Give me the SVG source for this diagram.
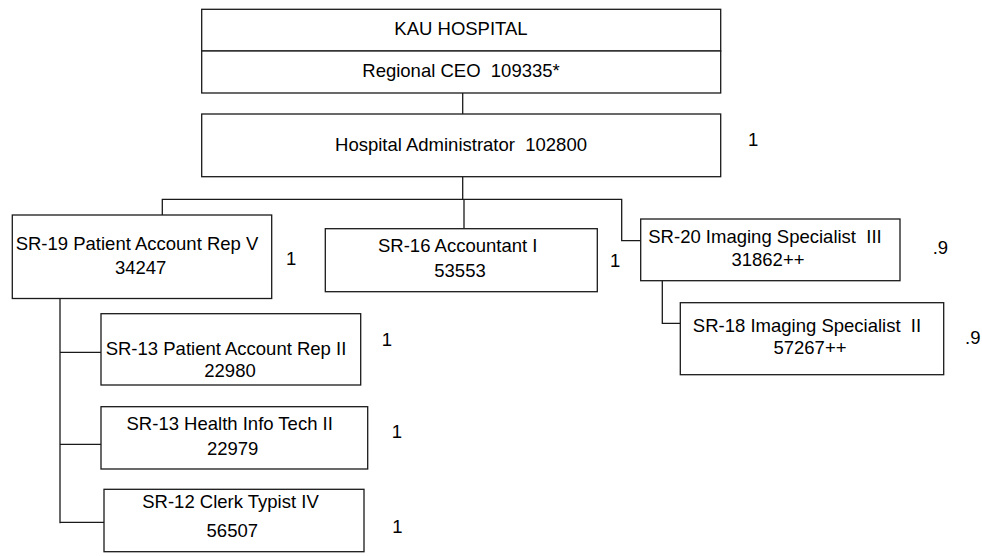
<svg xmlns="http://www.w3.org/2000/svg" width="982" height="556" viewBox="0 0 982 556">
<style>
.box{fill:#fff;stroke:#1a1a1a;stroke-width:1.3}
.ln{fill:none;stroke:#1a1a1a;stroke-width:1.3}
text{font-family:"Liberation Sans",Arial,sans-serif;font-size:18.5px;fill:#000}
.c{text-anchor:middle}
</style>
<rect width="982" height="556" fill="#fff"/>
<g id="connectors">
<path class="ln" d="M462.7 93V114"/>
<path class="ln" d="M462.7 176.7V199.3"/>
<path class="ln" d="M162.3 215V199.3H621.7V240.7H640.7"/>
<path class="ln" d="M464 199.3V228.7"/>
<path class="ln" d="M662.3 280.7V323.3H680.3"/>
<path class="ln" d="M60 296V523.3"/>
<path class="ln" d="M60 352.3H101"/>
<path class="ln" d="M60 444.3H101"/>
<path class="ln" d="M60 522.3H104"/>
</g>
<g id="kau">
<rect class="box" x="201.7" y="9.3" width="519" height="41.7"/>
<text class="c" x="461" y="35">KAU HOSPITAL</text>
</g>
<g id="ceo">
<rect class="box" x="201.7" y="51" width="519" height="42"/>
<text class="c" x="461" y="77" xml:space="preserve">Regional CEO  109335*</text>
</g>
<g id="admin">
<rect class="box" x="201.7" y="114" width="519" height="62.7"/>
<text class="c" x="461" y="150.7" xml:space="preserve">Hospital Administrator  102800</text>
<text x="748" y="146">1</text>
</g>
<g id="sr19">
<rect class="box" x="12.3" y="215" width="259.4" height="83.5"/>
<text class="c" x="137" y="250">SR-19 Patient Account Rep V</text>
<text class="c" x="140.7" y="274">34247</text>
<text x="286" y="265">1</text>
</g>
<g id="sr16">
<rect class="box" x="325.3" y="228.7" width="272" height="63"/>
<text class="c" x="457.7" y="252">SR-16 Accountant I</text>
<text class="c" x="460" y="276.7">53553</text>
<text x="610" y="266.7">1</text>
</g>
<g id="sr20">
<rect class="box" x="640.7" y="219" width="259.3" height="61.7"/>
<text class="c" x="765" y="242.7" xml:space="preserve">SR-20 Imaging Specialist  III</text>
<text class="c" x="768" y="266">31862++</text>
<text x="932.7" y="254">.9</text>
</g>
<g id="sr18">
<rect class="box" x="680.3" y="302.7" width="263.4" height="72"/>
<text class="c" x="807" y="331.7" xml:space="preserve">SR-18 Imaging Specialist  II</text>
<text class="c" x="810" y="354">57267++</text>
<text x="965" y="344">.9</text>
</g>
<g id="sr13par">
<rect class="box" x="101" y="313.7" width="259.7" height="71.3"/>
<text class="c" x="226" y="355">SR-13 Patient Account Rep II</text>
<text class="c" x="230" y="377.3">22980</text>
<text x="381.7" y="346">1</text>
</g>
<g id="sr13hit">
<rect class="box" x="101" y="406.7" width="266.7" height="62.3"/>
<text class="c" x="229.7" y="430">SR-13 Health Info Tech II</text>
<text class="c" x="232.7" y="455">22979</text>
<text x="391.7" y="438.3">1</text>
</g>
<g id="sr12">
<rect class="box" x="104" y="489.3" width="260" height="62.4"/>
<text class="c" x="230.5" y="508.3">SR-12 Clerk Typist IV</text>
<text class="c" x="232.3" y="536.7">56507</text>
<text x="392.3" y="532.7">1</text>
</g>
</svg>
